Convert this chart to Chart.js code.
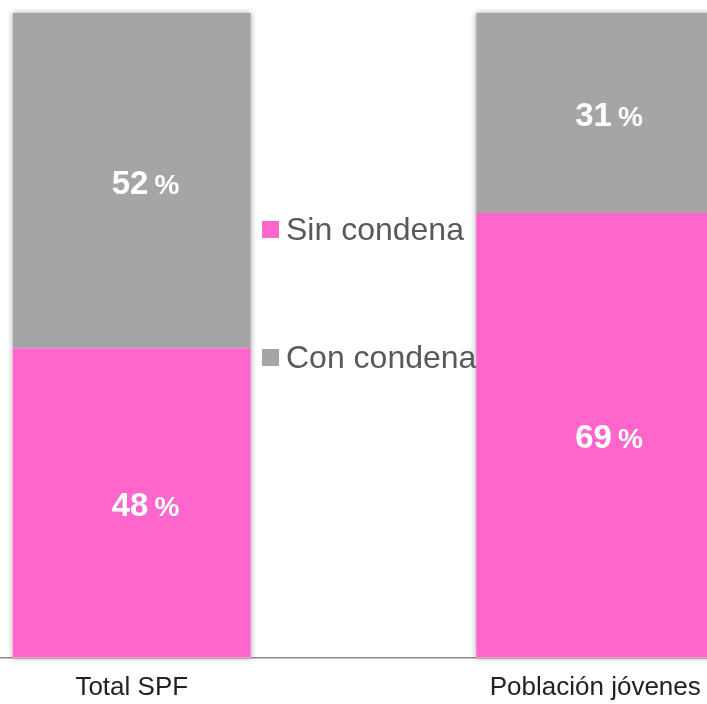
<!DOCTYPE html>
<html>
<head>
<meta charset="utf-8">
<script src="https://cdn.jsdelivr.net/npm/chart.js@4"></script>
<style>
html, body { margin: 0; padding: 0; overflow: hidden; background: #fff; width: 707px; height: 704px; }
#wrap { position: absolute; left: -100px; top: 0; width: 927px; height: 717px; }
</style>
</head>
<body>
<div id="wrap"><canvas id="c"></canvas></div>
<script>
const categories = ['Total SPF', 'Población jóvenes'];
const seriesNames = ['Sin condena', 'Con condena'];
const sinCondena = [48, 69];
const conCondena = [52, 31];
const seriesColors = ['#FF66CC', '#A5A5A5'];

const shadowPlugin = {
  id: 'stackShadow',
  beforeDatasetsDraw(chart) {
    const ctx = chart.ctx;
    const m0 = chart.getDatasetMeta(0), m1 = chart.getDatasetMeta(1);
    ctx.save();
    ctx.shadowColor = 'rgba(0,0,0,0.35)';
    ctx.shadowBlur = 6;
    ctx.fillStyle = '#ffffff';
    m0.data.forEach((el, i) => {
      const top = m1.data[i].y;
      const bottom = el.base;
      ctx.fillRect(el.x - el.width / 2, top, el.width, bottom - top);
    });
    ctx.restore();
  }
};

const labelPlugin = {
  id: 'valueLabels',
  afterDatasetsDraw(chart) {
    const ctx = chart.ctx;
    ctx.save();
    ctx.fillStyle = '#ffffff';
    ctx.textAlign = 'left';
    ctx.textBaseline = 'alphabetic';
    chart.data.datasets.forEach((ds, di) => {
      chart.getDatasetMeta(di).data.forEach((el, i) => {
        const cy = (el.y + el.base) / 2;
        const x0 = el.x - 20;
        const base = cy + 13;
        ctx.font = 'bold 33px "Liberation Sans", Arial, sans-serif';
        const num = String(ds.data[i]);
        ctx.fillText(num, x0, base);
        const w = ctx.measureText(num).width;
        ctx.font = 'bold 28px "Liberation Sans", Arial, sans-serif';
        ctx.fillText('%', x0 + w + 6, base);
      });
    });
    ctx.restore();
  }
};

const legendPlugin = {
  id: 'midLegend',
  afterDraw(chart) {
    const ctx = chart.ctx;
    const rect = chart.canvas.getBoundingClientRect();
    const off = -rect.left;
    const rows = [240, 368];
    ctx.save();
    ctx.font = '32px "Liberation Sans", Arial, sans-serif';
    ctx.textAlign = 'left';
    ctx.textBaseline = 'alphabetic';
    chart.data.datasets.forEach((ds, i) => {
      const yb = rows[i];
      ctx.fillStyle = ds.backgroundColor;
      ctx.fillRect(262 + off, yb - 19, 17, 17);
      ctx.fillStyle = '#595959';
      ctx.fillText(ds.label, 286 + off, yb);
    });
    ctx.restore();
  }
};

new Chart(document.getElementById('c'), {
  type: 'bar',
  data: {
    labels: categories,
    datasets: [
      { label: seriesNames[0], data: sinCondena, backgroundColor: seriesColors[0], borderWidth: 0 },
      { label: seriesNames[1], data: conCondena, backgroundColor: seriesColors[1], borderWidth: 0 }
    ]
  },
  options: {
    responsive: true,
    maintainAspectRatio: false,
    animation: false,
    devicePixelRatio: 1,
    layout: { padding: { top: 13, left: 0, right: 0, bottom: 0 } },
    datasets: { bar: { barPercentage: 1, categoryPercentage: 0.5137 } },
    plugins: { legend: { display: false }, tooltip: { enabled: false } },
    scales: {
      x: {
        stacked: true,
        grid: { display: false, drawTicks: false },
        border: { display: true, color: '#8a8a8a', width: 1.5 },
        ticks: { color: '#222222', padding: 14, font: { family: '"Liberation Sans", Arial, sans-serif', size: 26 } }
      },
      y: {
        stacked: true,
        display: false,
        min: 0,
        max: 100
      }
    }
  },
  plugins: [shadowPlugin, labelPlugin, legendPlugin]
});
</script>
</body>
</html>
